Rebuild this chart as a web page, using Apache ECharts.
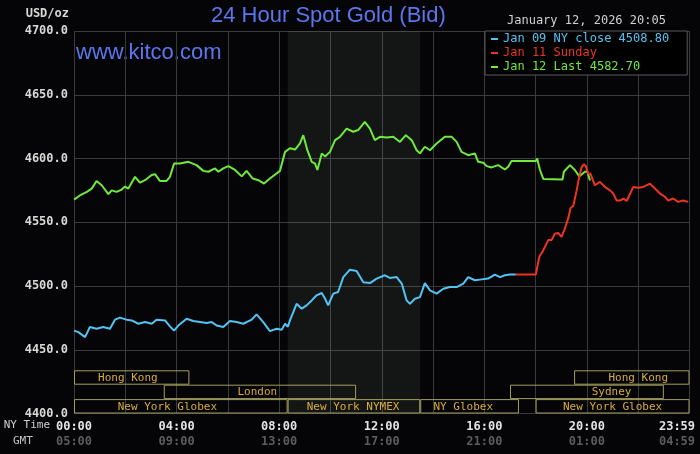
<!DOCTYPE html>
<html>
<head>
<meta charset="utf-8">
<script src="https://cdn.jsdelivr.net/npm/echarts@6/dist/echarts.min.js"></script>
<style>
html, body { margin: 0; padding: 0; background: #050507; }
#main { width: 700px; height: 454px; }
</style>
</head>
<body>
<div id="main"></div>
<script>
// prices, [hour of NY day, USD/oz]
var fridayClose = [[0,4465],[0.17,4463.8],[0.43,4459.9],[0.62,4467.8],[0.88,4466.5],[1.14,4467.8],[1.4,4466.5],
  [1.6,4473.6],[1.79,4475.2],[2.05,4473.6],[2.25,4473],[2.51,4470.4],[2.77,4471.7],[3.03,4470.4],[3.22,4473.6],
  [3.55,4473],[3.74,4468.3],[3.9,4465],[4.07,4469],[4.39,4474.3],[4.65,4472.5],[4.91,4471.7],[5.17,4470.9],
  [5.37,4471.7],[5.56,4469],[5.82,4467.8],[6.08,4472.5],[6.34,4471.7],[6.6,4470.4],[6.93,4473.6],[7.12,4477.7],
  [7.38,4471.7],[7.64,4464.6],[7.9,4466.5],[8.1,4465.7],[8.23,4470.4],[8.34,4468],[8.42,4473],[8.68,4486],
  [8.88,4482.2],[9.07,4484.8],[9.27,4488.7],[9.46,4492.7],[9.66,4494.5],[9.79,4490],[9.91,4484.8],[10.11,4494],
  [10.3,4495.3],[10.5,4507],[10.76,4512.8],[11.02,4511.8],[11.28,4503],[11.54,4502.3],[11.8,4505.8],[12.12,4508.4],
  [12.32,4506.3],[12.58,4507],[12.78,4501.9],[12.97,4488.7],[13.1,4486],[13.29,4490],[13.49,4491.3],[13.68,4502.3],
  [13.88,4496.6],[14.14,4494],[14.4,4497.9],[14.66,4499.2],[14.92,4499.2],[15.18,4501.9],[15.37,4507],[15.63,4504.5],
  [15.83,4505],[16.15,4505.8],[16.41,4509],[16.61,4507],[16.8,4508.4],[17.0,4509],[17.23,4509]];

var sunday = [[17.23,4509],[18.01,4509],[18.14,4522.8],[18.3,4528],[18.49,4536],[18.62,4536],[18.75,4541],
  [18.88,4541.6],[19.01,4538.5],[19.14,4545],[19.27,4553],[19.36,4561],[19.47,4563],[19.6,4575],[19.7,4585.6],
  [19.79,4593],[19.88,4595.5],[19.96,4594],[20.05,4588],[20.14,4588],[20.31,4579],[20.51,4581.7],[20.7,4577.7],
  [20.9,4575],[21.03,4572.5],[21.16,4567],[21.29,4567],[21.42,4568.6],[21.55,4566.7],[21.65,4571],[21.81,4577.7],
  [22.0,4577],[22.2,4577.7],[22.46,4580.3],[22.65,4576.5],[22.85,4572.5],[23.04,4570],[23.17,4567],[23.36,4568.6],
  [23.56,4566],[23.75,4567],[23.95,4566]];

var today = [[0,4567.8],[0.23,4571],[0.5,4573.8],[0.69,4576.4],[0.88,4582.4],[1.08,4579],[1.34,4572],[1.47,4575],
  [1.66,4573.8],[1.86,4575.6],[1.99,4578],[2.12,4576.4],[2.38,4585.6],[2.57,4581],[2.77,4583],[3.03,4587],
  [3.16,4587.7],[3.35,4582.4],[3.61,4582.4],[3.74,4585.6],[3.9,4596],[4.13,4596],[4.46,4597.4],[4.78,4594.8],
  [5.04,4590.3],[5.24,4589.6],[5.5,4592.2],[5.63,4589.6],[5.82,4592.2],[6.02,4594],[6.28,4591],[6.54,4586],
  [6.73,4590.3],[6.97,4584.3],[7.19,4583],[7.41,4580.3],[7.64,4584.3],[8.03,4590.3],[8.23,4605.2],[8.42,4608],
  [8.62,4607],[8.81,4611.8],[8.94,4618.3],[9.1,4606.5],[9.27,4597.4],[9.4,4596],[9.49,4591],[9.66,4604],
  [9.79,4601.5],[9.98,4605.2],[10.18,4614.4],[10.37,4617],[10.63,4623.5],[10.89,4621],[11.08,4622.3],[11.34,4628.8],
  [11.54,4623.5],[11.73,4614.4],[11.93,4617],[12.19,4616.5],[12.45,4617],[12.71,4613],[12.94,4618.3],[13.17,4614.4],
  [13.36,4606.5],[13.49,4604],[13.68,4609.2],[13.88,4606.5],[14.14,4611.8],[14.46,4617],[14.73,4617],[14.92,4613],
  [15.11,4605.2],[15.37,4602.6],[15.63,4604],[15.76,4597.4],[15.96,4596.7],[16.09,4594],[16.28,4593],[16.54,4594.8],
  [16.8,4591.4],[16.93,4593.5],[17.06,4598],[18.01,4598],[18.06,4600],[18.17,4591],[18.3,4584],[19.05,4583.5],
  [19.1,4589.6],[19.34,4594.8],[19.53,4591],[19.7,4586],[19.92,4589.6],[20.01,4590],[20.12,4582.7]];

var seriesNames = ['Jan 09 NY close 4508.80', 'Jan 11 Sunday', 'Jan 12 Last 4582.70'];
var nyTimeLabels = ['00:00', '04:00', '08:00', '12:00', '16:00', '20:00', '23:59'];
var gmtLabels = ['05:00', '09:00', '13:00', '17:00', '21:00', '01:00', '04:59'];

// trading sessions: [row, start hour, end hour, name, label hour]
var sessions = [
  [0, 0, 4.5, 'Hong Kong', 2.1],
  [0, 19.5, 24, 'Hong Kong', 22.0],
  [1, 3.5, 11, 'London', 7.15],
  [1, 17, 23, 'Sydney', 20.96],
  [2, 0, 8.33, 'New York Globex', 3.64],
  [2, 8.33, 13.5, 'New York NYMEX', 10.88],
  [2, 13.5, 17.35, 'NY Globex', 15.18],
  [2, 18, 24, 'New York Globex', 21.0]
];
var nymexHours = [8.33, 13.5];

var mono = '"DejaVu Sans Mono", "Liberation Mono", monospace';
var colors = ['#52c3f2', '#ee3420', '#6eea3c'];

var myChart = echarts.init(document.getElementById('main'));

function renderSession(params, api) {
  var s = sessions[params.dataIndex];
  var x0 = api.coord([s[1], 4400])[0];
  var x1 = api.coord([s[2], 4400])[0];
  var bottom = api.coord([0, 4400])[1];
  var rowH = 14.4;
  var top = bottom - (3 - s[0]) * rowH;
  var tx = api.coord([s[4], 4400])[0];
  return {
    type: 'group',
    children: [
      { type: 'rect', shape: { x: x0 + 0.5, y: top + 0.5, width: x1 - x0 - 1, height: rowH - 1 },
        style: { fill: 'none', stroke: '#a39d5e', lineWidth: 1 } },
      { type: 'text', style: { text: s[3], x: tx, y: top + rowH / 2 + 0.5, align: 'center', verticalAlign: 'middle',
        fill: '#d8ac3a', font: '11px ' + mono } }
    ]
  };
}

var option = {
  backgroundColor: '#050507',
  animation: false,
  grid: { left: 74, right: 10.5, top: 31, bottom: 40.5 },
  legend: {
    orient: 'vertical',
    left: 485,
    top: 31,
    backgroundColor: '#000',
    borderColor: '#5a5a5a',
    borderWidth: 1,
    padding: [1, 18, 1, 6],
    itemGap: 0,
    itemWidth: 7,
    itemHeight: 2,
    icon: 'rect',
    selectedMode: false,
    textStyle: { fontFamily: mono, fontSize: 12, lineHeight: 14 },
    data: [
      { name: seriesNames[0], textStyle: { color: colors[0] } },
      { name: seriesNames[1], textStyle: { color: colors[1] } },
      { name: seriesNames[2], textStyle: { color: colors[2] } }
    ]
  },
  graphic: [
    { type: 'text', left: 211, top: 5, style: { text: '24 Hour Spot Gold (Bid)', fill: '#5b76ee', font: '22px "Liberation Sans", Arial, sans-serif' } },
    { type: 'text', left: 76, top: 42, style: { text: 'www.kitco.com', fill: '#5b76ee', font: '22px "Liberation Sans", Arial, sans-serif' } },
    { type: 'text', left: 507, top: 15, style: { text: 'January 12, 2026 20:05', fill: '#d0d0d0', font: '12px ' + mono } },
    { type: 'text', right: 631, top: 8, style: { text: 'USD/oz', fill: '#d8d8d8', font: 'bold 12px ' + mono } },
    { type: 'text', right: 650, top: 420, style: { text: 'NY Time', fill: '#cfcfcf', font: '11px ' + mono } },
    { type: 'text', left: 13, top: 436, style: { text: 'GMT', fill: '#c4c4c4', font: '11px ' + mono } },
    { type: 'text', x: 677, y: 427, style: { text: nyTimeLabels[6], fill: '#e4e4e4', align: 'center', verticalAlign: 'middle', font: 'bold 12px ' + mono } },
    { type: 'text', x: 677, y: 442, style: { text: gmtLabels[6], fill: '#5c5c5c', align: 'center', verticalAlign: 'middle', font: 'bold 12px ' + mono } }
  ],
  xAxis: {
    type: 'value',
    min: 0,
    max: 24,
    interval: 2,
    axisLine: { show: false },
    axisTick: { show: false },
    splitLine: { show: true, lineStyle: { color: '#3a3a3a', width: 1 } },
    axisLabel: {
      margin: 6,
      showMaxLabel: false,
      formatter: function (v) {
        if (v % 4 !== 0 || v >= 24) return '';
        var i = v / 4;
        return '{a|' + nyTimeLabels[i] + '}\n{b|' + gmtLabels[i] + '}';
      },
      rich: {
        a: { color: '#e4e4e4', fontFamily: mono, fontWeight: 'bold', fontSize: 12, lineHeight: 15 },
        b: { color: '#5c5c5c', fontFamily: mono, fontWeight: 'bold', fontSize: 12, lineHeight: 15 }
      }
    }
  },
  yAxis: {
    type: 'value',
    min: 4400,
    max: 4700,
    interval: 50,
    axisLine: { show: false },
    axisTick: { show: false },
    splitLine: { show: true, lineStyle: { color: '#3a3a3a', width: 1 } },
    axisLabel: {
      margin: 6,
      color: '#d8d8d8',
      fontFamily: mono,
      fontWeight: 'bold',
      fontSize: 12,
      formatter: function (v) { return v.toFixed(1); }
    }
  },
  series: [
    {
      name: seriesNames[0],
      type: 'line',
      data: fridayClose,
      showSymbol: false,
      color: colors[0],
      lineStyle: { width: 2 },
      markArea: {
        silent: true,
        itemStyle: { color: 'rgba(215,255,215,0.07)' },
        data: [[{ xAxis: nymexHours[0] }, { xAxis: nymexHours[1] }]]
      }
    },
    {
      name: seriesNames[2],
      type: 'line',
      data: today,
      showSymbol: false,
      color: colors[2],
      lineStyle: { width: 2 }
    },
    {
      name: seriesNames[1],
      type: 'line',
      data: sunday,
      showSymbol: false,
      color: colors[1],
      lineStyle: { width: 2 },
      z: 3
    },
    {
      name: 'sessions',
      type: 'custom',
      renderItem: renderSession,
      encode: { x: [0, 1], y: 2 },
      data: sessions.map(function (s) { return [s[1], s[2], 4400]; }),
      silent: true,
      z: 4
    }
  ]
};

myChart.setOption(option);
</script>
</body>
</html>
